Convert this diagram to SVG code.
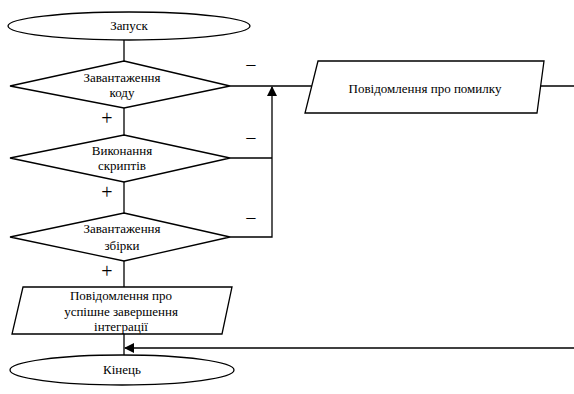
<svg xmlns="http://www.w3.org/2000/svg" width="574" height="394" viewBox="0 0 574 394" font-family="Liberation Serif, Times New Roman, serif">
<defs>
<style>
.s{fill:#fff;stroke:#000;stroke-width:1.3}
.c{fill:none;stroke:#000;stroke-width:1.3}
.t{font-size:13px;fill:#000;text-anchor:middle}
.sg{font-size:20px;fill:#000;text-anchor:middle}
</style>
<marker id="ah" markerWidth="10" markerHeight="10" refX="9" refY="5" orient="auto" markerUnits="userSpaceOnUse">
<path d="M0,0 L10,5 L0,10 Z" fill="#000"/>
</marker>
</defs>
<g id="connectors">
<line class="c" x1="124" y1="40" x2="124" y2="61"/>
<line class="c" x1="124" y1="108" x2="124" y2="135"/>
<line class="c" x1="124" y1="182" x2="124" y2="213"/>
<line class="c" x1="124" y1="261" x2="124" y2="287"/>
<line class="c" x1="124" y1="334" x2="124" y2="355"/>
<line class="c" x1="230" y1="86" x2="312" y2="86"/>
<line class="c" x1="230" y1="158" x2="272" y2="158"/>
<polyline class="c" points="230,237 272,237 272,87" marker-end="url(#ah)"/>
<line class="c" x1="541" y1="86" x2="574" y2="86"/>
<line class="c" x1="574" y1="348" x2="125" y2="348" marker-end="url(#ah)"/>
<text class="sg" x="251" y="72">−</text>
<text class="sg" x="251" y="145">−</text>
<text class="sg" x="251" y="225">−</text>
<text class="sg" x="107" y="125">+</text>
<text class="sg" x="107" y="199">+</text>
<text class="sg" x="107" y="278">+</text>
</g>
<g id="start">
<ellipse class="s" cx="129" cy="26" rx="121" ry="14"/>
<text class="t" x="129" y="30">Запуск</text>
</g>
<g id="d1">
<polygon class="s" points="124,61 230,86 124,108 10,86"/>
<text class="t" x="122" y="82">Завантаження</text>
<text class="t" x="122" y="97">коду</text>
</g>
<g id="d2">
<polygon class="s" points="124,135 230,158 124,182 10,158"/>
<text class="t" x="122" y="155">Виконання</text>
<text class="t" x="122" y="170">скриптів</text>
</g>
<g id="d3">
<polygon class="s" points="124,213 230,237 124,261 10,237"/>
<text class="t" x="122" y="233">Завантаження</text>
<text class="t" x="122" y="250">збірки</text>
</g>
<g id="ok">
<polygon class="s" points="23,287 232,287 222,334 12,334"/>
<text class="t" x="121" y="300">Повідомлення про</text>
<text class="t" x="121" y="316">успішне завершення</text>
<text class="t" x="121" y="331">інтеграції</text>
</g>
<g id="err">
<polygon class="s" points="318,61 544,61 537,113 305,113"/>
<text class="t" x="425" y="93">Повідомлення про помилку</text>
</g>
<g id="end">
<ellipse class="s" cx="122" cy="370" rx="112" ry="15"/>
<text class="t" x="122" y="374">Кінець</text>
</g>
</svg>
